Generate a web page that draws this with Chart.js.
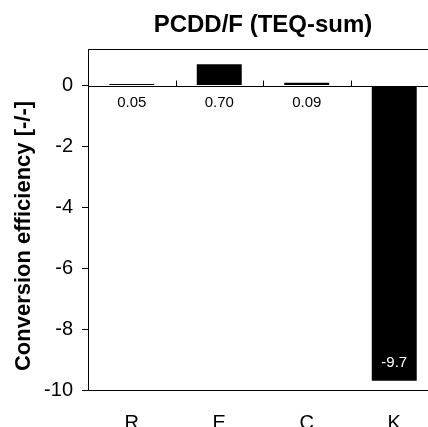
<!DOCTYPE html>
<html>
<head>
<meta charset="utf-8">
<script src="https://cdn.jsdelivr.net/npm/chart.js@4/dist/chart.umd.min.js"></script>
<style>
html,body{margin:0;padding:0;background:#fff;overflow:hidden;}
#wrap{width:440px;height:427px;}
</style>
</head>
<body>
<div id="wrap"><canvas id="c" width="440" height="427"></canvas></div>
<script>
const categories = ["R", "E", "C", "K"];
const values = [0.05, 0.70, 0.09, -9.7];
const valueLabels = ["0.05", "0.70", "0.09", "-9.7"];
const yTicks = [0, -2, -4, -6, -8, -10];
const titleText = "PCDD/F (TEQ-sum)";
const yTitleText = "Conversion efficiency [-/-]";

const FONT = "'Liberation Sans', Arial, sans-serif";

const decor = {
  id: 'decor',
  afterDraw(chart) {
    const ctx = chart.ctx;
    const a = chart.chartArea;
    const xs = chart.scales.x, ys = chart.scales.y;
    const y0 = Math.round(ys.getPixelForValue(0)) + 0.5;
    ctx.save();
    ctx.strokeStyle = '#000';
    ctx.lineWidth = 1;
    ctx.strokeRect(Math.round(a.left) + 0.5, Math.round(a.top) + 0.5, Math.round(a.right - a.left), Math.round(a.bottom - a.top));
    ctx.beginPath();
    ctx.moveTo(a.left, y0);
    ctx.lineTo(a.right, y0);
    ctx.stroke();
    for (let i = 0; i < categories.length - 1; i++) {
      const bx = Math.round((xs.getPixelForValue(i) + xs.getPixelForValue(i + 1)) / 2) + 0.5;
      ctx.beginPath();
      ctx.moveTo(bx, y0 - 6);
      ctx.lineTo(bx, y0);
      ctx.stroke();
    }
    const meta = chart.getDatasetMeta(0);
    ctx.font = '15px ' + FONT;
    ctx.textAlign = 'center';
    ctx.textBaseline = 'middle';
    meta.data.forEach((bar, i) => {
      if (values[i] >= 0) {
        ctx.fillStyle = '#000';
        ctx.fillText(valueLabels[i], bar.x, y0 + 16);
      } else {
        ctx.fillStyle = '#fff';
        ctx.fillText(valueLabels[i], bar.x, bar.y - 18);
      }
    });
    ctx.fillStyle = '#000';
    ctx.font = 'bold 24px ' + FONT;
    ctx.textBaseline = 'alphabetic';
    ctx.fillText(titleText, (a.left + a.right) / 2, 32);
    ctx.save();
    ctx.translate(24, 236);
    ctx.rotate(-Math.PI / 2);
    ctx.font = 'bold 22px ' + FONT;
    ctx.textBaseline = 'middle';
    ctx.fillText(yTitleText, 0, 0);
    ctx.restore();
    ctx.restore();
  }
};

new Chart(document.getElementById('c'), {
  type: 'bar',
  data: {
    labels: categories,
    datasets: [{
      data: values,
      backgroundColor: '#000',
      borderWidth: 0,
      barPercentage: 0.514,
      categoryPercentage: 1.0
    }]
  },
  options: {
    responsive: false,
    animation: false,
    events: [],
    layout: { padding: { top: 49, right: 2, left: 0, bottom: 0 } },
    plugins: { legend: { display: false }, tooltip: { enabled: false }, title: { display: false } },
    scales: {
      x: {
        grid: { display: false },
        border: { display: false },
        ticks: { color: '#000', font: { size: 20, family: FONT }, padding: 13 },
        afterFit(scale) { scale.height = 37; }
      },
      y: {
        min: -10,
        max: 1.2,
        afterBuildTicks(scale) { scale.ticks = yTicks.map(v => ({ value: v })); },
        grid: { drawOnChartArea: false, tickLength: 6, color: '#000' },
        border: { display: true, color: '#000' },
        ticks: { color: '#000', font: { size: 20, family: FONT }, padding: 9 },
        afterFit(scale) { scale.width = 88; }
      }
    }
  },
  plugins: [decor]
});
</script>
</body>
</html>
